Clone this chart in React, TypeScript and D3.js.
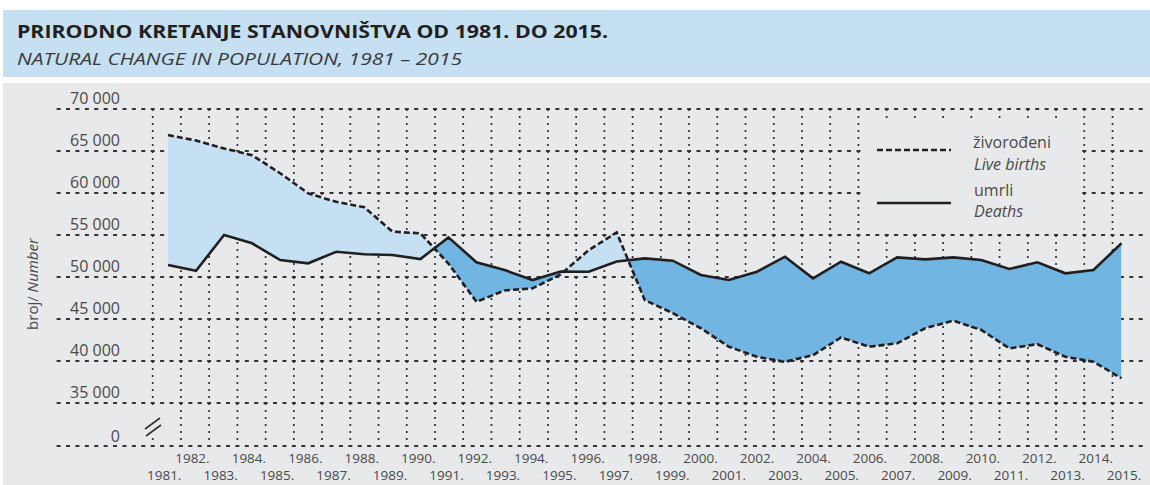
import React, { useEffect, useRef } from 'react';
import * as d3 from 'd3';

// years shown on the x axis
const years = [
  1981, 1982, 1983, 1984, 1985, 1986, 1987, 1988, 1989, 1990,
  1991, 1992, 1993, 1994, 1995, 1996, 1997, 1998, 1999, 2000,
  2001, 2002, 2003, 2004, 2005, 2006, 2007, 2008, 2009, 2010,
  2011, 2012, 2013, 2014, 2015,
];

// živorođeni / live births
const births = [
  66900, 66250, 65300, 64500, 62350, 59950, 58950, 58300, 55400, 55200,
  51600, 47050, 48400, 48650, 50300, 53200, 55300, 47250, 45700, 43900,
  41700, 40500, 39900, 40700, 42800, 41700, 42100, 43900, 44800, 43700,
  41500, 42000, 40500, 39900, 37950,
];

// umrli / deaths
const deaths = [
  51430, 50750, 55000, 54010, 52020, 51630, 53010, 52700, 52620, 52140,
  54720, 51750, 50830, 49640, 50650, 50630, 51850, 52220, 51940, 50240,
  49640, 50630, 52420, 49840, 51820, 50440, 52340, 52100, 52340, 52020,
  50950, 51750, 50440, 50830, 54010,
];

const yTicks = [35000, 40000, 45000, 50000, 55000, 60000, 65000, 70000];

const BG = '#e8e9eb';
const LIGHT = '#c5dff3';
const DARK = '#71b5e3';
const INK = '#231f20';
const FONT = '"Open Sans", sans-serif';

const App: React.FC = () => {
  const ref = useRef<HTMLDivElement | null>(null);

  useEffect(() => {
    document.body.style.margin = '0';
    const width = 1150;
    const height = 485;

    const svg = d3.select(ref.current)
      .append('svg')
      .attr('width', width)
      .attr('height', height)
      .style('display', 'block')
      .style('font-family', FONT);

    // title band
    svg.append('rect').attr('x', 3).attr('y', 10).attr('width', width - 3).attr('height', 67).attr('fill', LIGHT);
    svg.append('text')
      .attr('x', 17).attr('y', 38)
      .attr('font-size', 18.5).attr('font-weight', 700).attr('fill', INK)
      .attr('textLength', 591).attr('lengthAdjust', 'spacingAndGlyphs')
      .text('PRIRODNO KRETANJE STANOVNIŠTVA OD 1981. DO 2015.');
    svg.append('text')
      .attr('x', 17).attr('y', 65)
      .attr('font-size', 16.5).attr('font-style', 'italic').attr('fill', '#3a3a3a')
      .attr('textLength', 445).attr('lengthAdjust', 'spacingAndGlyphs')
      .text('NATURAL CHANGE IN POPULATION, 1981 – 2015');

    // chart background
    svg.append('rect').attr('x', 3).attr('y', 83).attr('width', width - 3).attr('height', height - 83).attr('fill', BG);

    const x = d3.scaleLinear().domain([1981, 2015]).range([168, 1121.5]);
    const y = d3.scaleLinear().domain([35000, 70000]).range([403, 109]);
    const yZero = 446;
    // grid columns sit between years
    const xGrid = d3.scaleLinear().domain([0, years.length - 1]).range([152.7, 1112.5]);
    const gridStep = xGrid(1) - xGrid(0);

    const grid = svg.append('g');
    // vertical dotted lines
    years.forEach((_yr, i) => {
      const gx = xGrid(i);
      if (i === 0) {
        grid.append('line').attr('x1', gx).attr('x2', gx).attr('y1', y(70000)).attr('y2', 410)
          .attr('stroke', '#333').attr('stroke-width', 1.7).attr('stroke-dasharray', '2,5');
        grid.append('line').attr('x1', gx).attr('x2', gx).attr('y1', 438).attr('y2', yZero)
          .attr('stroke', '#333').attr('stroke-width', 1.7).attr('stroke-dasharray', '2,5');
      } else {
        grid.append('line').attr('x1', gx).attr('x2', gx).attr('y1', y(70000)).attr('y2', yZero)
          .attr('stroke', '#333').attr('stroke-width', 1.7).attr('stroke-dasharray', '2,5');
      }
    });
    // horizontal dashed lines
    const hLines = [...yTicks.map(t => y(t)), yZero];
    const dashLen = 4;
    const dashGap = gridStep / 3 - dashLen;
    hLines.forEach(hy => {
      grid.append('line').attr('x1', 55).attr('x2', 1143).attr('y1', hy).attr('y2', hy)
        .attr('stroke', '#333').attr('stroke-width', 1.8)
        .attr('stroke-dasharray', `${dashLen},${dashGap}`)
        .attr('stroke-dashoffset', -((xGrid(0) - 55) % (gridStep / 3)) + dashLen / 2 + gridStep / 3);
    });

    // axis break mark
    const brk = svg.append('g').attr('stroke', '#333').attr('stroke-width', 1.6);
    brk.append('line').attr('x1', 145).attr('y1', 429).attr('x2', 160).attr('y2', 418);
    brk.append('line').attr('x1', 146).attr('y1', 436).attr('x2', 161).attr('y2', 425);

    // y tick labels
    const tickLabels = svg.append('g').attr('font-size', 16).attr('fill', '#4a4a4a').attr('text-anchor', 'end');
    yTicks.forEach(t => {
      tickLabels.append('text').attr('x', 120).attr('y', y(t) - 5.5).text(d3.format(',')(t).replace(',', ' '));
    });
    tickLabels.append('text').attr('x', 120).attr('y', yZero - 4.5).text('0');

    // y axis title
    const yt = svg.append('text')
      .attr('transform', 'translate(38,284) rotate(-90)')
      .attr('text-anchor', 'middle').attr('font-size', 15).attr('fill', '#4a4a4a');
    yt.append('tspan').text('broj/ ');
    yt.append('tspan').attr('font-style', 'italic').text('Number');

    // x labels, two staggered rows
    const xl = svg.append('g').attr('font-size', 13.5).attr('fill', '#4a4a4a').attr('text-anchor', 'middle');
    years.forEach((yr, i) => {
      xl.append('text')
        .attr('x', xGrid(i) + 11.5)
        .attr('y', i % 2 === 0 ? 480 : 463)
        .text(`${yr}.`);
    });

    // difference fill
    const idx = d3.range(years.length);
    const defs = svg.append('defs');
    defs.append('clipPath').attr('id', 'clip-above').append('path')
      .attr('d', d3.area<number>().x(i => x(years[i])).y0(0).y1(i => y(deaths[i]))(idx) || '');
    defs.append('clipPath').attr('id', 'clip-below').append('path')
      .attr('d', d3.area<number>().x(i => x(years[i])).y0(i => y(deaths[i])).y1(height)(idx) || '');

    const between = d3.area<number>()
      .x(i => x(years[i]))
      .y0(i => y(deaths[i]))
      .y1(i => y(births[i]));

    svg.append('path').attr('d', between(idx) || '').attr('fill', LIGHT).attr('clip-path', 'url(#clip-above)');
    svg.append('path').attr('d', between(idx) || '').attr('fill', DARK).attr('clip-path', 'url(#clip-below)');

    const lineOf = (vals: number[]) => d3.line<number>().x(i => x(years[i])).y(i => y(vals[i]))(idx) || '';

    svg.append('path').attr('d', lineOf(deaths))
      .attr('fill', 'none').attr('stroke', INK).attr('stroke-width', 2.6).attr('stroke-linejoin', 'miter');
    svg.append('path').attr('d', lineOf(births))
      .attr('fill', 'none').attr('stroke', INK).attr('stroke-width', 2.6).attr('stroke-dasharray', '6,3');

    // legend
    const lg = svg.append('g');
    lg.append('rect').attr('x', 862).attr('y', 121).attr('width', 216).attr('height', 111).attr('fill', BG);
    lg.append('line').attr('x1', 877).attr('x2', 951).attr('y1', 150).attr('y2', 150)
      .attr('stroke', INK).attr('stroke-width', 2.6).attr('stroke-dasharray', '6,3');
    lg.append('line').attr('x1', 877).attr('x2', 951).attr('y1', 203).attr('y2', 203)
      .attr('stroke', INK).attr('stroke-width', 2.6);
    const lt = lg.append('g').attr('font-size', 16).attr('fill', '#4a4a4a');
    lt.append('text').attr('x', 973).attr('y', 148).text('živorođeni');
    lt.append('text').attr('x', 974).attr('y', 170).attr('font-style', 'italic').text('Live births');
    lt.append('text').attr('x', 974).attr('y', 196).text('umrli');
    lt.append('text').attr('x', 974).attr('y', 217).attr('font-style', 'italic').text('Deaths');

    return () => {
      if (ref.current) {
        d3.select(ref.current).selectAll('*').remove();
      }
    };
  }, []);

  return <div ref={ref} />;
};

export default App;
